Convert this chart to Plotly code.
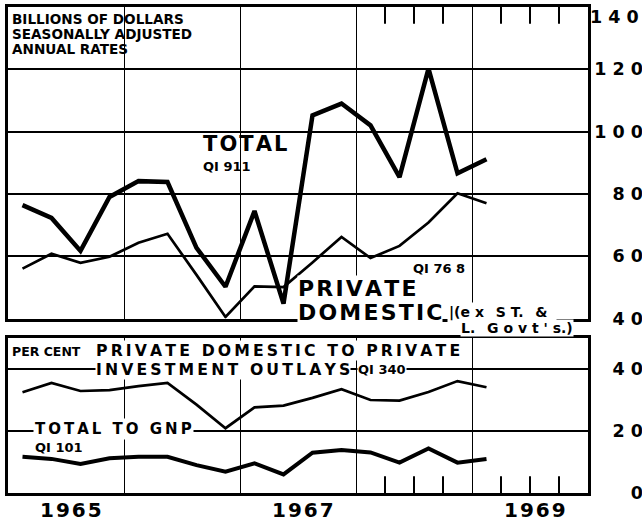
import plotly.graph_objects as go

# ---------------- data ----------------
quarters = ["1965Q1", "1965Q2", "1965Q3", "1965Q4",
            "1966Q1", "1966Q2", "1966Q3", "1966Q4",
            "1967Q1", "1967Q2", "1967Q3", "1967Q4",
            "1968Q1", "1968Q2", "1968Q3", "1968Q4",
            "1969Q1"]

# billions of dollars, seasonally adjusted annual rates
total_outlays = [76.4, 72.3, 61.7, 79.0, 84.1, 83.8, 62.7, 50.2,
                 74.5, 44.8, 105.2, 109.0, 102.0, 85.4, 120.2, 86.6, 91.1]
private_domestic = [56.0, 60.8, 57.9, 59.8, 64.3, 67.2, 54.0, 40.5,
                    50.3, 50.1, 58.0, 66.2, 59.4, 63.3, 70.8, 80.2, 77.0]

# per cent
private_to_private = [32.5, 35.5, 32.9, 33.2, 34.5, 35.5, 28.5, 20.9,
                      27.6, 28.2, 30.7, 33.5, 30.0, 29.8, 32.6, 36.1, 34.1]
total_to_gnp = [11.7, 11.0, 9.4, 11.2, 11.7, 11.7, 9.0, 6.9,
                9.6, 6.0, 13.0, 13.9, 13.1, 9.8, 14.4, 9.8, 11.0]

top_range = [40, 140]
bottom_range = [0, 50]
top_ticks = [40, 60, 80, 100, 120]
top_label = 140
bottom_ticks = [0, 20, 40]
year_labels = ["1965", "1967", "1969"]
year_label_pos = [1965.5, 1967.5, 1969.5]
grid_years = [1966, 1967, 1968, 1969]
quarter_marks = [1968.25, 1968.5, 1968.75, 1969.25, 1969.5, 1969.75]

# ---------------- layout helpers ----------------
OFF = 0          # body margin is removed in the page (see post_script)
W, H = 642, 521
L, R, T, B = 8, 54, 7, 28
PW, PH = W - L - R, H - T - B
XR = [1965, 1970]

def px(page_x):
    return (page_x - OFF - L) / PW

def py(page_y):
    return (H - B - (page_y - OFF)) / PH

def qpos(q):
    return int(q[:4]) + (int(q[-1]) - 0.5) / 4

THIN, HAIR, FIG = "\u2009", "\u200a", "\u2007"

def spaced(s, gap=THIN, word_gap=THIN + " " + THIN):
    return word_gap.join(gap.join(w) for w in s.split(" "))

def right_label(v, digits=3):
    s = str(v)
    return " ".join([FIG] * (digits - len(s)) + list(s))

FONT = "DejaVu Sans"
x = [qpos(q) for q in quarters]

fig = go.Figure()
fig.add_trace(go.Scatter(x=x, y=total_outlays, mode="lines", xaxis="x", yaxis="y",
                         line=dict(color="black", width=4.5), hoverinfo="skip"))
fig.add_trace(go.Scatter(x=x, y=private_domestic, mode="lines", xaxis="x", yaxis="y",
                         line=dict(color="black", width=2.7), hoverinfo="skip"))
fig.add_trace(go.Scatter(x=x, y=private_to_private, mode="lines", xaxis="x2", yaxis="y2",
                         line=dict(color="black", width=2.7), hoverinfo="skip"))
fig.add_trace(go.Scatter(x=x, y=total_to_gnp, mode="lines", xaxis="x2", yaxis="y2",
                         line=dict(color="black", width=4), hoverinfo="skip"))

# quarter tick marks on the top and bottom frame edges (half of each marker is clipped)
tick_marker = dict(symbol="line-ns", size=24, color="black",
                   line=dict(color="black", width=2))
fig.add_trace(go.Scatter(x=quarter_marks, y=[top_range[1]] * len(quarter_marks),
                         mode="markers", marker=tick_marker, xaxis="x", yaxis="y",
                         cliponaxis=True, hoverinfo="skip"))
fig.add_trace(go.Scatter(x=quarter_marks, y=[bottom_range[0]] * len(quarter_marks),
                         mode="markers", marker=tick_marker, xaxis="x2", yaxis="y2",
                         cliponaxis=True, hoverinfo="skip"))

top_dom = [py(318.5), 1]
bot_dom = [0, py(338)]

tick_font = dict(family=FONT, size=17.5, color="black", weight="bold")

fig.update_layout(
    width=W, height=H,
    margin=dict(l=L, r=R, t=T, b=B, pad=0),
    paper_bgcolor="white", plot_bgcolor="white",
    showlegend=False,
    xaxis=dict(anchor="y", side="top", range=XR, domain=[0, 1],
               automargin=False,
               tickmode="array", tickvals=grid_years, showticklabels=False, ticks="",
               showgrid=True, gridcolor="black", gridwidth=1,
               showline=True, linecolor="black", linewidth=3, mirror=True,
               zeroline=False),
    xaxis2=dict(anchor="y2", side="bottom", range=XR, domain=[0, 1],
                matches="x", automargin=False,
                tickmode="array", tickvals=grid_years, showticklabels=False, ticks="",
                showgrid=True, gridcolor="black", gridwidth=1,
                showline=True, linecolor="black", linewidth=3, mirror=True,
                zeroline=False),
    yaxis=dict(anchor="x", side="right", domain=top_dom, range=top_range,
               automargin=False,
               tickmode="array", tickvals=top_ticks,
               ticktext=[right_label(v) for v in top_ticks], ticks="",
               ticklabelstandoff=0, tickfont=tick_font,
               showgrid=True, gridcolor="black", gridwidth=1.5,
               showline=True, linecolor="black", linewidth=2.5, mirror=True,
               zeroline=False),
    yaxis2=dict(anchor="x2", side="right", domain=bot_dom, range=bottom_range,
                automargin=False,
                tickmode="array", tickvals=bottom_ticks,
                ticktext=[right_label(v) for v in bottom_ticks], ticks="",
                ticklabelstandoff=0, tickfont=tick_font,
                showgrid=True, gridcolor="black", gridwidth=1.5,
                showline=True, linecolor="black", linewidth=2.5, mirror=True,
                zeroline=False),
)

def ann(text, xp, yp, size, bg=None, pad=1, xanchor="left", yanchor="middle"):
    fig.add_annotation(text=text, x=px(xp), y=py(yp),
                       xref="paper", yref="paper", xanchor=xanchor, yanchor=yanchor,
                       showarrow=False, align="left",
                       font=dict(family=FONT, size=size, color="black", weight="bold"),
                       bgcolor=bg if bg else "rgba(0,0,0,0)", borderpad=pad)

# year labels, centred on each labelled year
for yl, yp in zip(year_labels, year_label_pos):
    fig.add_annotation(text=spaced(yl, gap=HAIR), x=yp, xref="x2", y=py(510), yref="paper",
                       xanchor="center", yanchor="middle", xshift=5, showarrow=False,
                       font=dict(family=FONT, size=20, color="black", weight="bold"))

# top-right 140 label (kept inside the page)
fig.add_annotation(text=right_label(top_label), x=1, y=top_label, xref="paper", yref="y",
                   xanchor="left", yanchor="top", xshift=0, yshift=2, showarrow=False,
                   font=tick_font)

ann("BILLIONS OF DOLLARS", 10, 19, 13.6)
ann("SEASONALLY ADJUSTED", 10, 34, 13.6)
ann("ANNUAL RATES", 10, 49, 13.6)

ann(spaced("TOTAL", gap=HAIR), 201, 144, 21)
ann("QI 911", 201, 167, 13)

ann(spaced("PRIVATE", gap=HAIR), 297, 288, 22, bg="white", pad=0)
ann(spaced("DOMESTIC", gap=HAIR), 297, 312, 22, bg="white", pad=0)
ann("|(e x\u2002 S T.\u2002 &\u2002", 447, 312, 14, bg="white", pad=1)
ann("L.\u2002 G o v t ' s.)", 460, 328, 14, bg="white", pad=0)
ann("QI 76 8", 411, 268, 13)

ann("PER CENT", 10, 351, 12.5)
ann(spaced("PRIVATE DOMESTIC TO PRIVATE"), 95, 350, 15.7, bg="white", pad=0)
ann(spaced("INVESTMENT OUTLAYS"), 95, 369, 15.7, bg="white", pad=0)
ann("QI 340", 357, 369, 13, bg="white", pad=0)
ann(spaced("TOTAL TO GNP"), 33, 429, 15, bg="white", pad=1)
ann("QI 101", 33, 447, 13)

fig.write_html("out.html",
               config={"displayModeBar": False},
               post_script="document.body.style.margin='0';"
                           "document.body.style.overflow='hidden';")
